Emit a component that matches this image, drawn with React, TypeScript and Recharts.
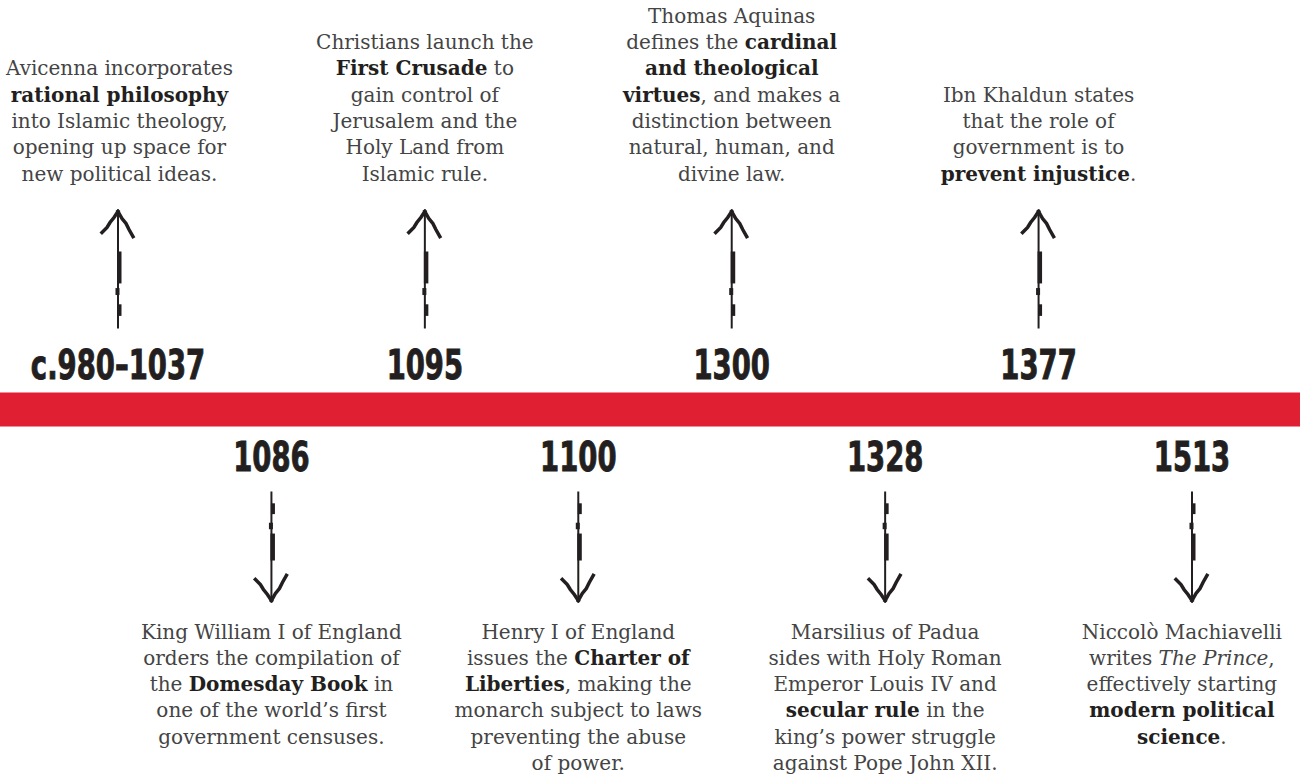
import { ComposedChart, ReferenceLine, Scatter, XAxis, YAxis } from "recharts";

// timeline entries, in reading order (left to right)
const YEARS = ["c.980–1037", "1086", "1095", "1100", "1300", "1328", "1377", "1513"];
const SIDES = ["up", "down", "up", "down", "up", "down", "up", "down"];
// **bold**, *italic*
const CAPTIONS = [
  ["Avicenna incorporates", "**rational philosophy**", "into Islamic theology,", "opening up space for", "new political ideas."],
  ["King William I of England", "orders the compilation of", "the **Domesday Book** in", "one of the world’s first", "government censuses."],
  ["Christians launch the", "**First Crusade** to", "gain control of", "Jerusalem and the", "Holy Land from", "Islamic rule."],
  ["Henry I of England", "issues the **Charter of**", "**Liberties**, making the", "monarch subject to laws", "preventing the abuse", "of power."],
  ["Thomas Aquinas", "defines the **cardinal**", "**and theological**", "**virtues**, and makes a", "distinction between", "natural, human, and", "divine law."],
  ["Marsilius of Padua", "sides with Holy Roman", "Emperor Louis IV and", "**secular rule** in the", "king’s power struggle", "against Pope John XII."],
  ["Ibn Khaldun states", "that the role of", "government is to", "**prevent injustice**."],
  ["Niccolò Machiavelli", "writes *The Prince*,", "effectively starting", "**modern political**", "**science**."]
];

const events = YEARS.map((year, i) => ({
  year,
  level: 0,
  side: SIDES[i],
  caption: CAPTIONS[i]
}));

const W = 1300;
const H = 779;
const RED = "#e01f32";
const INK = "#231f20";
const TEXT = "#444444";
const SERIF = "'DejaVu Serif', serif";
const YEAR_FONT = "'DejaVu Sans Condensed', 'DejaVu Sans', sans-serif";
const CAPTION_SIZE = 20;
const LINE = 26.3;

let ctx: CanvasRenderingContext2D | null = null;
function measure(line: string) {
  if (!ctx) ctx = document.createElement("canvas").getContext("2d");
  if (!ctx) return line.length * 10;
  let w = 0;
  for (const seg of splitLine(line)) {
    ctx.font = `${seg.italic ? "italic " : ""}${seg.bold ? "bold " : ""}${CAPTION_SIZE}px ${SERIF}`;
    w += ctx.measureText(seg.text).width;
  }
  return w;
}

function splitLine(line: string) {
  const out: { text: string; bold: boolean; italic: boolean }[] = [];
  const re = /(\*\*[^*]+\*\*|\*[^*]+\*)/g;
  let last = 0;
  let m: RegExpExecArray | null;
  while ((m = re.exec(line))) {
    if (m.index > last) out.push({ text: line.slice(last, m.index), bold: false, italic: false });
    const tok = m[0];
    if (tok.startsWith("**")) out.push({ text: tok.slice(2, -2), bold: true, italic: false });
    else out.push({ text: tok.slice(1, -1), bold: false, italic: true });
    last = m.index + tok.length;
  }
  if (last < line.length) out.push({ text: line.slice(last), bold: false, italic: false });
  return out;
}

function Arrow({ x, y0, y1 }: { x: number; y0: number; y1: number }) {
  // y0 = tail, y1 = tip; sketchy hand-drawn look
  const d = y1 < y0 ? 1 : -1;
  const p = (dy: number) => y1 + d * dy;
  const len = Math.abs(y0 - y1);
  return (
    <g fill={INK} stroke={INK} strokeLinecap="square">
      <line x1={x} y1={y0} x2={x} y2={y1} strokeWidth={2} />
      <rect x={x - 1} y={Math.min(p(40), p(len * 0.62))} width={4.5} height={Math.abs(p(len * 0.62) - p(40))} stroke="none" />
      <rect x={x - 2.5} y={Math.min(p(len * 0.66), p(len * 0.72))} width={4} height={len * 0.06} stroke="none" />
      <rect x={x - 0.5} y={Math.min(p(len * 0.8), p(len * 0.9))} width={4} height={len * 0.1} stroke="none" />
      <polyline
        fill="none"
        strokeWidth={3.5}
        points={`${x},${p(0)} ${x - 4},${p(6)} ${x - 8},${p(11)} ${x - 11},${p(16)} ${x - 16},${p(21)}`}
      />
      <polyline
        fill="none"
        strokeWidth={3.5}
        points={`${x},${p(0)} ${x + 4},${p(7)} ${x + 8},${p(12)} ${x + 11},${p(18)} ${x + 15},${p(25)}`}
      />
    </g>
  );
}

function EventMark(props: any) {
  const { cx, cy, payload } = props;
  if (cx == null || cy == null) return null;
  const up = payload.side === "up";
  const lines: string[] = payload.caption;
  const widest = Math.max(...lines.map(measure));
  const tx = Math.max(widest / 2 + 6, Math.min(cx, W - widest / 2 - 18));
  const n = lines.length;
  const baseline = (i: number) => (up ? cy - 229 - (n - 1 - i) * LINE : cy + 229 + i * LINE);
  const yearY = up ? cy - 31 : cy + 61;

  return (
    <g>
      <text
        transform={`translate(${cx},${yearY}) scale(0.745,1)`}
        x={0}
        y={0}
        textAnchor="middle"
        fontFamily={YEAR_FONT}
        fontWeight="bold"
        fontSize={41}
        fill={INK}
        stroke={INK}
        strokeWidth={0.9}
      >
        {payload.year}
      </text>
      {up ? <Arrow x={cx} y0={cy - 82} y1={cy - 198} /> : <Arrow x={cx} y0={cy + 83} y1={cy + 191} />}
      {lines.map((line, i) => (
        <text key={i} x={tx} y={baseline(i)} textAnchor="middle" fontFamily={SERIF} fontSize={CAPTION_SIZE} fill={TEXT}>
          {splitLine(line).map((seg, j) => (
            <tspan
              key={j}
              fontWeight={seg.bold ? "bold" : "normal"}
              fontStyle={seg.italic ? "italic" : "normal"}
              fill={seg.bold ? INK : TEXT}
            >
              {seg.text}
            </tspan>
          ))}
        </text>
      ))}
    </g>
  );
}

export default function App() {
  return (
    <div style={{ position: "absolute", left: 0, top: 0, width: W, height: H, background: "#fff" }}>
      <ComposedChart width={W} height={H} data={events} margin={{ top: 40, right: 0, bottom: 0, left: 0 }}>
        <XAxis dataKey="year" type="category" hide padding={{ left: 118, right: 108 }} />
        <YAxis type="number" domain={[-1, 1]} hide />
        <ReferenceLine y={0} stroke={RED} strokeWidth={34} />
        <Scatter dataKey="level" isAnimationActive={false} shape={(p: any) => <EventMark {...p} />} />
      </ComposedChart>
    </div>
  );
}
